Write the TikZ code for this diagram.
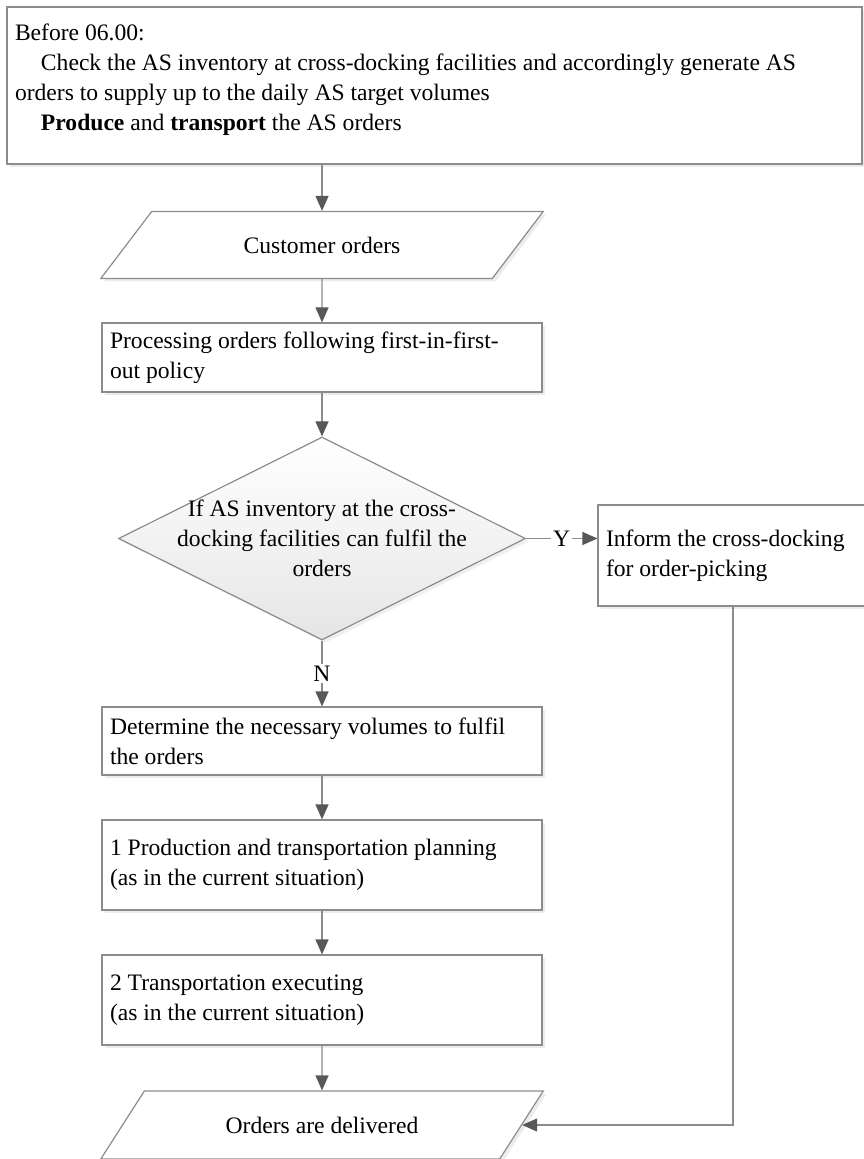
\documentclass[tikz,border=0pt]{standalone}
\usepackage{fontspec}
\setmainfont{Liberation Serif}
\usepackage{tikz}
\usetikzlibrary{shapes.geometric,arrows.meta,shadows}

\begin{document}
\begin{tikzpicture}[x=0.5pt,y=-0.5pt,font=\fontsize{11.8}{15}\selectfont,
  box/.style={draw=lineColor, line width=0.6pt, fill=white, rectangle, inner xsep=4pt, inner ysep=2pt, align=flush left, drop shadow={shadow xshift=1.5pt, shadow yshift=-1.5pt, opacity=0.15}},
  io/.style={draw=lineColor, line width=0.6pt, fill=white, trapezium, trapezium left angle=45, trapezium right angle=135, trapezium stretches=true, inner sep=2pt, drop shadow={shadow xshift=1.5pt, shadow yshift=-1.5pt, opacity=0.15}},
  decision/.style={draw=lineColor, line width=0.6pt, diamond, inner sep=0pt, top color=white, bottom color=gray!20, drop shadow={shadow xshift=1.5pt, shadow yshift=-1.5pt, opacity=0.12}},
  flow/.style={draw=lineColor, line width=0.6pt, -{Triangle[length=7.5pt,width=6.5pt,color=tipColor]}},
  lbl/.style={fill=white, inner sep=1pt}]
\definecolor{lineColor}{RGB}{140,140,140}
\definecolor{tipColor}{RGB}{88,88,88}
\useasboundingbox (0,0) rectangle (863,1159);
\node[box, minimum width=427.5pt, minimum height=78.5pt, text width=419.5pt] (task) at (434.5,85.5) {Before 06.00:\\\hspace*{13pt}Check the AS inventory at cross-docking facilities and accordingly generate AS\\orders to supply up to the daily AS target volumes\\\hspace*{13pt}\textbf{Produce} and \textbf{transport} the AS orders\\[-7pt]\mbox{}};
\node[io, minimum width=221.5pt, minimum height=33.5pt] (cust) at (322,245) {Customer orders};
\node[box, minimum width=220pt, minimum height=34.5pt, text width=212pt] (proc) at (322,357.5) {Processing orders following first-in-first-\\out policy};
\node[decision, minimum width=203.5pt, minimum height=101.5pt] (dec) at (322,538.5) {};
\node[align=center, inner sep=0pt] (dectxt) at (dec.center) {If AS inventory at the cross-\\docking facilities can fulfil the\\orders};
\node[box, minimum width=135pt, minimum height=50.5pt, text width=127pt] (inf) at (733,555.5) {Inform the cross-docking\\for order-picking};
\node[box, minimum width=220pt, minimum height=34pt, text width=212pt] (det) at (322,741) {Determine the necessary volumes to fulfil\\the orders};
\node[box, minimum width=220pt, minimum height=45pt, text width=212pt] (plan) at (322,865) {1 Production and transportation planning\\(as in the current situation)};
\node[box, minimum width=220pt, minimum height=45pt, text width=212pt] (exe) at (322,1000) {2 Transportation executing\\(as in the current situation)};
\node[io, minimum width=221.5pt, minimum height=34pt] (deliv) at (322,1125) {Orders are delivered};
\draw[flow] (cust.north |- task.south) -- (cust.north);
\draw[flow] (cust.south) -- (proc.north);
\draw[flow] (proc.south) -- (dec.north);
\draw[flow] (dec.east) -- node[lbl] {Y} (dec.east -| inf.west);
\draw[flow] (dec.south) -- node[lbl] {N} (det.north);
\draw[flow] (det.south) -- (plan.north);
\draw[flow] (plan.south) -- (exe.north);
\draw[flow] (exe.south) -- (deliv.north);
\draw[flow] (inf.south) |- (deliv.east);
\end{tikzpicture}
\end{document}
